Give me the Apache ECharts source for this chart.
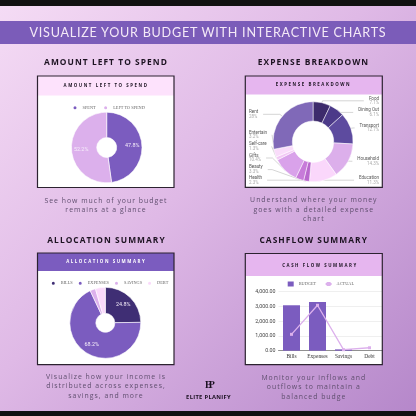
<!DOCTYPE html>
<html>
<head>
<meta charset="utf-8">
<script src="https://cdn.jsdelivr.net/npm/echarts@6/dist/echarts.min.js"></script>
<style>
html,body{margin:0;padding:0;width:416px;height:416px;overflow:hidden;}
#bg{position:absolute;left:0;top:0;width:416px;height:416px;background:linear-gradient(135deg,#f5dcf5 0%,#dfb9e6 45%,#b587ca 100%);}
.band{position:absolute;left:0;width:416px;background:#111;}
#banner{position:absolute;left:0;top:20.5px;width:416px;height:23.5px;background:#7b5cb9;}
#chart{position:absolute;left:0;top:0;width:416px;height:416px;}
.t{position:absolute;text-align:center;white-space:nowrap;pointer-events:none;z-index:5;}
.bt{font-family:Lato,sans-serif;font-size:12.6px;color:#f4e9f7;letter-spacing:0.75px;line-height:14px;height:14px;}
.h{font-family:"Open Sans",sans-serif;font-weight:700;font-size:8.4px;color:#1d1322;letter-spacing:1.05px;line-height:10px;height:10px;width:200px;}
.c{font-family:"Open Sans",sans-serif;font-size:6.9px;color:#5f4e6e;letter-spacing:1px;line-height:9.6px;width:200px;}
.ph{font-family:"Open Sans",sans-serif;font-weight:700;font-size:4.4px;letter-spacing:1.55px;line-height:6px;height:6px;width:140px;}
.logo{font-family:"Open Sans",sans-serif;font-weight:700;font-size:5.8px;color:#1a1020;letter-spacing:0.3px;line-height:8px;width:100px;}
.icon{font-family:"Liberation Serif",serif;font-weight:700;font-size:10px;color:#1a1020;letter-spacing:-3px;line-height:10px;width:60px;}
</style>
</head>
<body>
<div id="bg"></div>
<div class="band" style="top:0;height:5.5px"></div>
<div class="band" style="top:410.5px;height:6px"></div>
<div id="banner"></div>
<div id="chart"></div>

<div class="t bt" style="left:0;width:416px;top:25.8px">VISUALIZE YOUR BUDGET WITH INTERACTIVE CHARTS</div>

<div class="t h" style="left:6px;top:57.2px">AMOUNT LEFT TO SPEND</div>
<div class="t h" style="left:213.5px;top:57.3px">EXPENSE BREAKDOWN</div>
<div class="t h" style="left:6.5px;top:234.7px">ALLOCATION SUMMARY</div>
<div class="t h" style="left:213.7px;top:234.7px">CASHFLOW SUMMARY</div>

<div class="t c" style="left:6px;top:195.9px">See how much of your budget<br>remains at a glance</div>
<div class="t c" style="left:213.8px;top:195.2px">Understand where your money<br>goes with a detailed expense<br>chart</div>
<div class="t c" style="left:6px;top:371.9px">Visualize how your income is<br>distributed across expenses,<br>savings, and more</div>
<div class="t c" style="left:213.8px;top:372.9px">Monitor your inflows and<br>outflows to maintain a<br>balanced budge</div>

<div class="t ph" style="left:36px;top:82.3px;color:#1a1320">AMOUNT LEFT TO SPEND</div>
<div class="t ph" style="left:243.5px;top:81.3px;color:#1a1320">EXPENSE BREAKDOWN</div>
<div class="t ph" style="left:36.2px;top:258.3px;color:#ffffff">ALLOCATION SUMMARY</div>
<div class="t ph" style="left:250px;top:262px;color:#1a1320">CASH FLOW SUMMARY</div>

<div class="t icon" style="left:178.5px;top:380px">EP</div>
<div class="t logo" style="left:158.5px;top:392.7px">ELITE PLANIFY</div>

<script>
// ---- data ----
const spentNames = ['SPENT', 'LEFT TO SPEND'];
const spentValues = [47.8, 52.2];

const expenseNames = ['Food', 'Dining Out', 'Transport', 'Household', 'Education', 'Health', 'Beauty', 'Gifts', 'Self-care', 'Entertain', 'Rent'];
const expenseValues = [7.1, 6.1, 12.7, 14.3, 11.3, 2.3, 3.3, 10.4, 1.3, 3.2, 28.0];

const allocNames = ['BILLS', 'EXPENSES', 'SAVINGS', 'DEBT'];
const allocValues = [24.8, 68.2, 2.5, 4.5];

const cashCategories = ['Bills', 'Expenses', 'Savings', 'Debt'];
const budgetValues = [3080, 3300, 90, 0];
const actualValues = [1110, 3080, 70, 200];
const yAxisMin = 0, yAxisMax = 4000, yAxisStep = 1000;

// ---- styles ----
const spentColors = ['#7b5cbf', '#dcb0ec'];
const expenseColors = ['#3d2b6c', '#4c3a89', '#5d4b9f', '#dcafeb', '#fad7fb', '#b968cd', '#c77bd9', '#d9a2ea', '#f2c8f5', '#f9dcfa', '#8069b8'];
const allocColors = ['#3f2e74', '#7b5cbf', '#dcb0ec', '#fad9fb'];

const chart = echarts.init(document.getElementById('chart'), null, {renderer: 'canvas'});

function panel(x, y, w, h, headH, headColor) {
  return [
    {type: 'rect', shape: {x: x, y: y, width: w, height: h}, style: {fill: '#ffffff'}, z: 0},
    {type: 'rect', shape: {x: x, y: y, width: w, height: headH}, style: {fill: headColor}, z: 1},
    {type: 'rect', shape: {x: x, y: y, width: w, height: h}, style: {fill: 'none', stroke: '#2c2230', lineWidth: 1.2}, z: 60}
  ];
}

const legendText = {fontFamily: 'Liberation Serif', fontSize: 4.3, color: '#666'};

const option = {
  animation: false,
  graphic: [].concat(
    panel(37.5, 76, 136.5, 111.5, 19.5, '#fde2fc'),
    panel(245.3, 76, 137, 111.3, 18.5, '#e6b6ef'),
    panel(37.5, 253, 136.5, 111.7, 18, '#7b5cbf'),
    panel(245.3, 253.5, 137, 111.2, 22.5, '#e6b6ef')
  ),
  legend: [
    {
      data: spentNames, left: 71.5, top: 104.2, itemWidth: 5, itemHeight: 5, itemGap: 6.5,
      icon: 'circle', textStyle: legendText, padding: 0
    },
    {
      data: allocNames, left: 49.8, top: 279.8, itemWidth: 5, itemHeight: 5, itemGap: 4,
      icon: 'circle', textStyle: legendText, padding: 0
    },
    {
      data: [{name: 'BUDGET', icon: 'rect'}, {name: 'ACTUAL'}], left: 287.7, top: 281.5,
      itemWidth: 6, itemHeight: 5, itemGap: 8.5, textStyle: legendText, padding: 0
    }
  ],
  grid: {left: 278.5, top: 291.7, width: 104, height: 59, containLabel: false, outerBoundsMode: 'none'},
  xAxis: {
    type: 'category', data: cashCategories,
    axisTick: {show: false},
    axisLine: {lineStyle: {color: '#777', width: 0.8}},
    axisLabel: {fontFamily: 'Liberation Serif', fontSize: 5.4, color: '#333', margin: 3, interval: 0}
  },
  yAxis: {
    type: 'value', min: yAxisMin, max: yAxisMax, interval: yAxisStep,
    axisLine: {show: false}, axisTick: {show: false},
    splitLine: {lineStyle: {color: '#e4e4e4', width: 0.6}},
    axisLabel: {
      fontFamily: 'Roboto', fontSize: 5.3, color: '#444', margin: 3,
      formatter: v => v.toLocaleString('en-US', {minimumFractionDigits: 2, maximumFractionDigits: 2})
    }
  },
  series: [
    {
      type: 'pie', name: 'Amount', center: [106.7, 147.5], radius: [10, 35.3],
      startAngle: 90, clockwise: true,
      data: spentNames.map((n, i) => ({name: n, value: spentValues[i], itemStyle: {color: spentColors[i]}})),
      itemStyle: {borderColor: '#ffffff', borderWidth: 0.6},
      label: {position: 'inner', formatter: '{d}%', fontFamily: 'Roboto', fontSize: 5.4, color: '#f6eefa'},
      labelLine: {show: false}, emphasis: {disabled: true}, percentPrecision: 1
    },
    {
      type: 'pie', name: 'Expenses',
      left: 246, top: 95, width: 136, height: 92,
      center: ['49.3%', '50.8%'], radius: [20.7, 40],
      startAngle: 90, clockwise: true, percentPrecision: 1,
      data: expenseNames.map((n, i) => ({name: n, value: expenseValues[i], itemStyle: {color: expenseColors[i]}})),
      itemStyle: {borderColor: '#ffffff', borderWidth: 0.5},
      label: {
        position: 'outside', alignTo: 'edge', edgeDistance: 3, overflow: 'none',
        formatter: '{n|{b}}\n{p|{d}%}',
        rich: {
          n: {fontFamily: 'Roboto', fontSize: 4.5, color: '#555', lineHeight: 4.6},
          p: {fontFamily: 'Roboto', fontSize: 4.5, color: '#aaa', lineHeight: 4.6}
        }
      },
      labelLine: {length: 3, length2: 5, lineStyle: {color: '#aaa', width: 0.5}},
      emphasis: {disabled: true}
    },
    {
      type: 'pie', name: 'Allocation', center: [105.3, 322.8], radius: [9.5, 35.5],
      startAngle: 90, clockwise: true, percentPrecision: 1,
      data: allocNames.map((n, i) => ({name: n, value: allocValues[i], itemStyle: {color: allocColors[i]}})),
      itemStyle: {borderColor: '#ffffff', borderWidth: 0.6},
      minShowLabelAngle: 20,
      label: {position: 'inner', formatter: '{d}%', fontFamily: 'Roboto', fontSize: 5.4, color: '#f6eefa'},
      labelLine: {show: false}, emphasis: {disabled: true}
    },
    {
      type: 'bar', name: 'BUDGET', data: budgetValues, barWidth: 17,
      itemStyle: {color: '#7b5cbf'}, emphasis: {disabled: true}
    },
    {
      type: 'line', name: 'ACTUAL', data: actualValues,
      lineStyle: {color: '#dcb0ec', width: 1.3}, itemStyle: {color: '#dcb0ec'},
      symbol: 'rect', symbolSize: 3, emphasis: {disabled: true}
    }
  ]
};
chart.setOption(option);
</script>
</body>
</html>
